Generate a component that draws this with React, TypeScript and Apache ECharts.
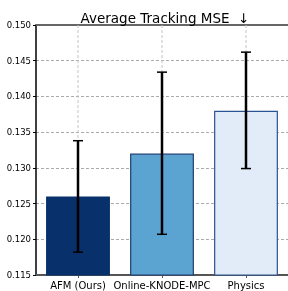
import React, { useEffect, useRef } from "react";
import * as echarts from "echarts";

const categories = ["AFM (Ours)", "Online-KNODE-MPC", "Physics"];
const means = [0.126, 0.132, 0.138];
const errLow = [0.1182, 0.1207, 0.1299];
const errHigh = [0.1338, 0.1434, 0.1462];
const barColors = ["#08306b", "#5ba3d1", "#e1ecf8"];
const barBorders = ["#08306b", "#1f3f74", "#2b5391"];
const yTicks = { min: 0.115, max: 0.15, interval: 0.005 };

export default function App() {
  const ref = useRef<HTMLDivElement>(null);
  useEffect(() => {
    if (!ref.current) return;
    const chart = echarts.init(ref.current, undefined, { renderer: "svg" });
    const font = "DejaVu Sans";
    chart.setOption({
      animation: false,
      title: {
        text: "Average Tracking MSE  \u2193",
        left: 160,
        textAlign: "center",
        top: 6,
        textStyle: { fontFamily: font, fontSize: 13.5, fontWeight: "normal", color: "#000" },
      },
      grid: { left: 36, right: -2, top: 25, bottom: 16 },
      xAxis: [
        {
          type: "category",
          data: categories,
          axisLine: { lineStyle: { color: "#555", width: 2 } },
          axisTick: { show: true, alignWithLabel: true, length: 3, lineStyle: { color: "#555" } },
          axisLabel: { fontFamily: font, fontSize: 10, color: "#000", margin: 5, interval: 0 },
          splitLine: { show: false },
        },
        {
          type: "category",
          data: categories,
          position: "top",
          axisLine: { lineStyle: { color: "#666", width: 2 } },
          axisTick: { show: false },
          axisLabel: { show: false },
          splitLine: { show: false },
        },
      ],
      yAxis: {
        type: "value",
        min: yTicks.min,
        max: yTicks.max,
        interval: yTicks.interval,
        axisLine: { show: true, lineStyle: { color: "#000", width: 1.5 } },
        axisTick: { show: true, length: 3, lineStyle: { color: "#000" } },
        axisLabel: {
          fontFamily: font,
          fontSize: 8.5,
          color: "#000",
          margin: 5,
          formatter: (v: number) => v.toFixed(3),
        },
        splitLine: { show: true, lineStyle: { color: "#aaa", type: [3, 2], width: 1 } },
      },
      series: [
        {
          type: "custom",
          z: 1,
          silent: true,
          data: categories.map((_, i) => [i]),
          renderItem: (params: any, api: any) => {
            const x = api.value(0);
            const top = api.coord([x, yTicks.max]);
            const bot = api.coord([x, yTicks.min]);
            return {
              type: "line",
              shape: { x1: top[0], y1: top[1], x2: bot[0], y2: bot[1] },
              style: { stroke: "#c4c4c4", lineWidth: 1, lineDash: [3, 2] },
            };
          },
        },
        {
          type: "bar",
          barWidth: "76%",
          data: means.map((v, i) => ({
            value: v,
            itemStyle: { color: barColors[i], borderColor: barBorders[i], borderWidth: 1.2 },
          })),
          z: 2,
        },
        {
          type: "custom",
          z: 5,
          data: categories.map((_, i) => [i, errLow[i], errHigh[i]]),
          renderItem: (params: any, api: any) => {
            const x = api.value(0);
            const lo = api.coord([x, api.value(1)]);
            const hi = api.coord([x, api.value(2)]);
            const cap = 5;
            const style = { stroke: "#000", lineWidth: 2.5 };
            const capStyle = { stroke: "#000", lineWidth: 1.5 };
            return {
              type: "group",
              children: [
                { type: "line", shape: { x1: lo[0], y1: lo[1], x2: hi[0], y2: hi[1] }, style },
                { type: "line", shape: { x1: lo[0] - cap, y1: lo[1], x2: lo[0] + cap, y2: lo[1] }, style: capStyle },
                { type: "line", shape: { x1: hi[0] - cap, y1: hi[1], x2: hi[0] + cap, y2: hi[1] }, style: capStyle },
              ],
            };
          },
        },
      ],
    });
    return () => chart.dispose();
  }, []);
  return <div ref={ref} style={{ width: 288, height: 291, position: "fixed", left: 0, top: 0 }} />;
}
